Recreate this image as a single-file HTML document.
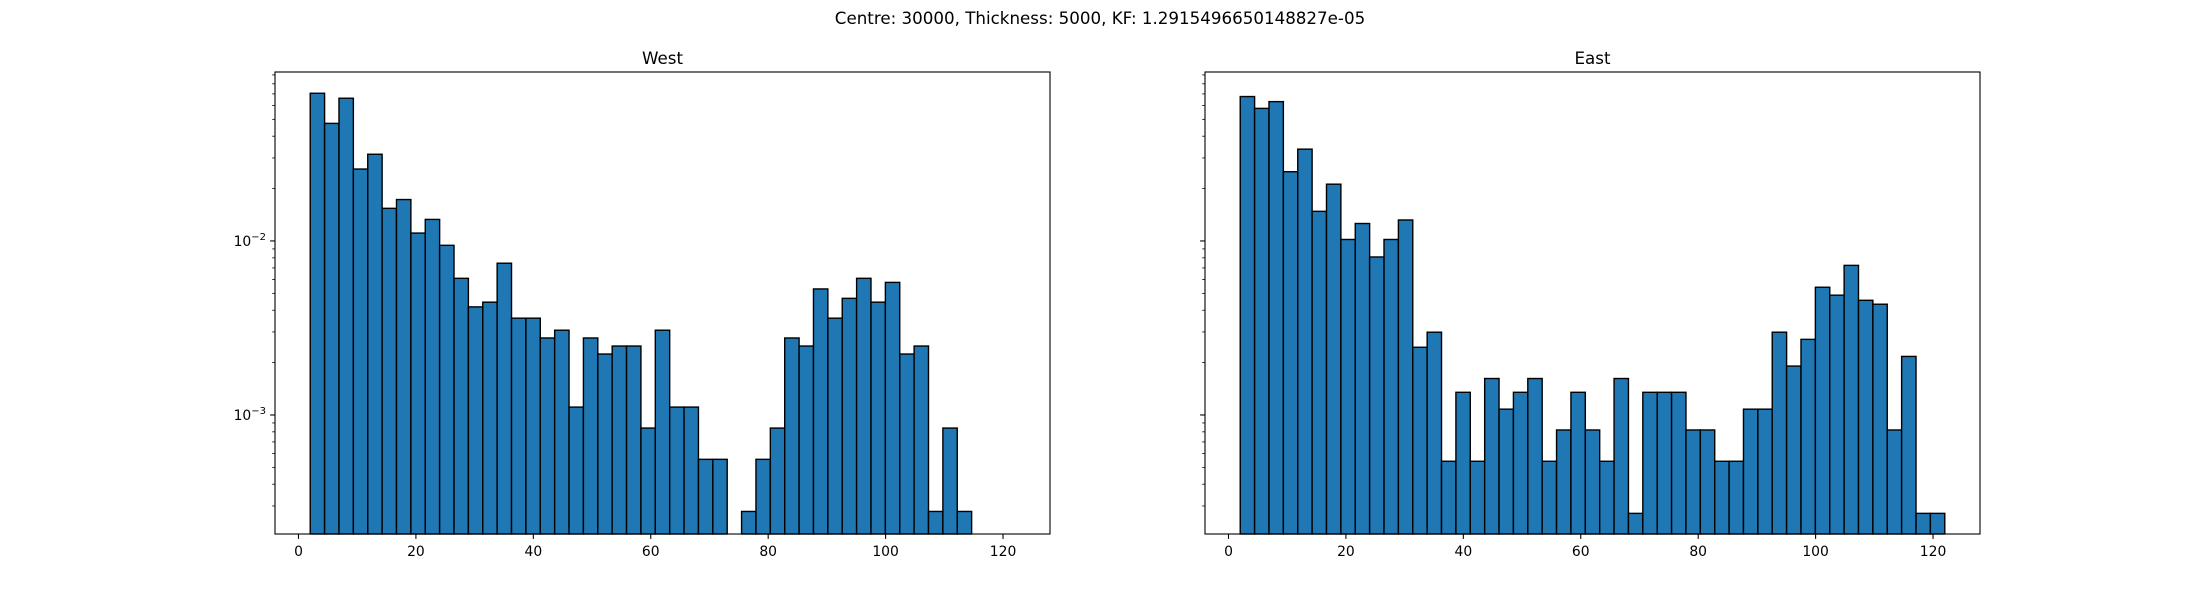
<!DOCTYPE html>
<html><head><meta charset="utf-8">
<style>
html,body{margin:0;padding:0;background:#fff;}
svg{display:block;font-family:"DejaVu Sans","Liberation Sans",sans-serif;}
</style></head>
<body>
<svg id="fig" width="2200" height="600" viewBox="0 0 2200 600" xmlns="http://www.w3.org/2000/svg">
<rect width="2200" height="600" fill="#fff"/>
<text x="1100" y="24" font-size="16.7" text-anchor="middle">Centre: 30000, Thickness: 5000, KF: 1.2915496650148827e-05</text>
</svg>
<script>
const binStart = 2;
const binEnd = 122;
const binCount = 49;
const westValues = [0.0706,0.0474,0.0661,0.0259,0.0315,0.0154,0.0173,0.0111,0.0133,0.00944,0.00610,0.00418,0.00445,0.00745,0.00360,0.00360,0.00277,0.00307,0.00111,0.00277,0.00224,0.00249,0.00249,0.000841,0.00307,0.00111,0.00111,0.000556,0.000556,0,0.000279,0.000556,0.000841,0.00277,0.00249,0.00530,0.00360,0.00468,0.00610,0.00445,0.00578,0.00224,0.00249,0.000279,0.000841,0.000279,0,0,0];
const eastValues = [0.0676,0.0578,0.0632,0.0250,0.0337,0.0148,0.0212,0.0102,0.0126,0.00809,0.0102,0.0132,0.00245,0.00299,0.000542,0.00135,0.000542,0.00162,0.00108,0.00135,0.00162,0.000542,0.000820,0.00135,0.000820,0.000542,0.00162,0.000272,0.00135,0.00135,0.00135,0.000820,0.000820,0.000542,0.000542,0.00108,0.00108,0.00299,0.00191,0.00272,0.00542,0.00488,0.00724,0.00456,0.00433,0.000820,0.00217,0.000272,0.000272];
const xTicks = [0,20,40,60,80,100,120];
const yMajorTicks = [-3,-2];
const yLimLog = [-3.684, -1.029];
const xLim = [-4, 128];

const NS = "http://www.w3.org/2000/svg";
const svg = document.getElementById('fig');
function mk(tag, attrs, parent){
  const e = document.createElementNS(NS, tag);
  for (const k in attrs) e.setAttribute(k, attrs[k]);
  (parent||svg).appendChild(e);
  return e;
}
const top_ = 72, bottom = 534;
function drawPanel(left, right, title, values, showYLabels, key){
  const g = mk('g', {});
  
  
  const xs = v => left + (v - xLim[0]) / (xLim[1] - xLim[0]) * (right - left);
  const ys = v => bottom - (Math.log10(v) - yLimLog[0]) / (yLimLog[1] - yLimLog[0]) * (bottom - top_);
  const w = (binEnd - binStart) / binCount;
  values.forEach((v, i) => {
    if (v <= 0) return;
    const x0 = xs(binStart + i * w), x1 = xs(binStart + (i + 1) * w);
    const y = ys(v);
    const r = mk('rect', {x: x0, y: y, width: x1 - x0, height: bottom - y, fill: '#1f77b4', stroke: '#000', 'stroke-width': 1.4}, g);
    
    
  });
  const frame = mk('rect', {x: left, y: top_, width: right - left, height: bottom - top_, fill: 'none', stroke: '#000', 'stroke-width': 1.1}, g);
  
  
  xTicks.forEach(t => {
    const x = xs(t);
    mk('line', {x1: x, x2: x, y1: bottom, y2: bottom + 4.9, stroke: '#000', 'stroke-width': 1.1}, g);
    const tx = mk('text', {x: x, y: bottom + 22, 'font-size': 13.9, 'text-anchor': 'middle'}, g);
    tx.textContent = t;
    
    
  });
  for (let d = -4; d <= -1; d++) {
    for (let m = 1; m <= 9; m++) {
      const lv = d + Math.log10(m);
      if (lv < yLimLog[0] || lv > yLimLog[1]) continue;
      const y = ys(Math.pow(10, lv));
      const len = m === 1 ? 4.9 : 2.8;
      mk('line', {x1: left - len, x2: left, y1: y, y2: y, stroke: '#000', 'stroke-width': m === 1 ? 1.1 : 0.8}, g);
    }
  }
  if (showYLabels) {
    yMajorTicks.forEach(d => {
      const y = ys(Math.pow(10, d));
      const tx = mk('text', {x: left - 9, y: y + 5, 'font-size': 13.9, 'text-anchor': 'end'}, g);
      
      
      const a = mk('tspan', {}, tx); a.textContent = '10';
      const b = mk('tspan', {dy: -6, 'font-size': 10}, tx); b.textContent = '\u2212' + (-d);
    });
  }
  const t = mk('text', {x: (left + right) / 2, y: 64, 'font-size': 16.7, 'text-anchor': 'middle'}, g);
  t.textContent = title;
  
  
}
drawPanel(275, 1050, 'West', westValues, true, 'west');
drawPanel(1205, 1980, 'East', eastValues, false, 'east');
</script>
</body></html>
